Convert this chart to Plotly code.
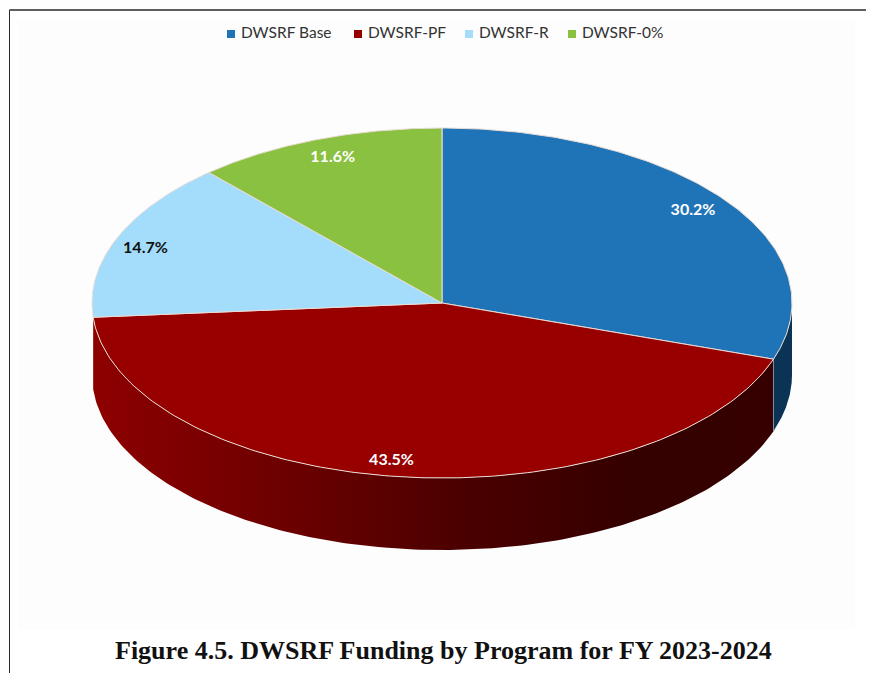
import numpy as np
import plotly.graph_objects as go

programs = ["DWSRF Base", "DWSRF-PF", "DWSRF-R", "DWSRF-0%"]
shares = [30.2, 43.5, 14.7, 11.6]
top_colors = ["#1F74B8", "#980000", "#A3DDFB", "#8BC140"]
label_colors = ["#FFFFFF", "#FFFFFF", "#111111", "#FFFFFF"]
title_text = "Figure 4.5. DWSRF Funding by Program for FY 2023-2024"

# The page body adds an 8 px margin, so the figure is 8 px smaller on each axis
# and page coordinates are converted by subtracting 8.
PAGE = 8
W, H = 874 - PAGE, 673 - PAGE
CX, CY, RX, RY, DEPTH = 442 - PAGE, 303 - PAGE, 350, 175, 72
xr = [-CX / RX, (W - CX) / RX]
yr = [-(H - CY) / RY, CY / RY]
d = DEPTH / RY


def px(x, y):
    return (x - PAGE - CX) / RX, (CY - (y - PAGE)) / RY


def arc(a0, a1, n=160):
    t = np.radians(np.linspace(a0, a1, n))
    return np.sin(t), np.cos(t)


edges = np.concatenate([[0], np.cumsum(shares)]) / sum(shares) * 360
fig = go.Figure()

# side walls (only the front half, 90..270 degrees, is visible)
wall_fills = {
    0: dict(fillcolor="#0B3355"),
    1: dict(fillgradient=dict(type="horizontal", colorscale=[
        [0, "#8E0000"], [0.3, "#6A0000"], [0.55, "#4A0000"], [0.8, "#340000"], [1, "#360000"]])),
}
for i, style in wall_fills.items():
    a0, a1 = max(edges[i], 90), min(edges[i + 1], 270)
    x, y = arc(a0, a1)
    fig.add_trace(go.Scatter(
        x=np.concatenate([x, x[::-1]]), y=np.concatenate([y, y[::-1] - d]),
        mode="lines", line=dict(width=0), fill="toself", showlegend=False, hoverinfo="skip", **style))
    for ex in [a0, a1]:
        if 90 < ex < 265:
            ax, ay = arc(ex, ex, 1)
            fig.add_trace(go.Scatter(x=[ax[0], ax[0]], y=[ay[0], ay[0] - d], mode="lines",
                                     line=dict(color="#7F8FA0", width=1), showlegend=False, hoverinfo="skip"))

# top faces
for i, name in enumerate(programs):
    x, y = arc(edges[i], edges[i + 1])
    fig.add_trace(go.Scatter(
        x=np.concatenate([[0], x, [0]]), y=np.concatenate([[0], y, [0]]),
        mode="lines", line=dict(color="#E9DCD6", width=1), fill="toself",
        fillcolor=top_colors[i], showlegend=False, name=name, hoverinfo="name"))

# percentage labels, placed along each slice's mid angle with small pixel nudges
nudges = [(-5, 0), (-12, 2), (-4, 4), (3, 2)]
mid = np.radians((edges[:-1] + edges[1:]) / 2)
fig.add_trace(go.Scatter(
    x=[0.9 * np.sin(m) + n[0] / RX for m, n in zip(mid, nudges)],
    y=[0.9 * np.cos(m) - n[1] / RY for m, n in zip(mid, nudges)],
    mode="text",
    text=[f"{v:.1f}%" for v in shares],
    textfont=dict(family="Lato", size=16, color=label_colors, weight="bold"),
    showlegend=False, hoverinfo="skip"))

# legend row: a square key and a name for each program
key_x = [231, 358, 469, 572]
key_y = 34
for name, c, kx in zip(programs, top_colors, key_x):
    lx, ly = px(kx, key_y)
    fig.add_trace(go.Scatter(
        x=[lx], y=[ly], mode="markers+text", text=[" " + name], textposition="middle right",
        textfont=dict(family="Lato", size=15.5, color="#333333"),
        marker=dict(symbol="square", size=8, color=c), showlegend=False, name=name, hoverinfo="name"))

x0, y0 = px(9.5, 10)
bx0, by0 = px(18, 20)
bx1, by1 = px(855, 630)
fig.add_shape(type="rect", x0=bx0, y0=by0, x1=bx1, y1=by1, fillcolor="#FDFDFD",
              line=dict(width=0), layer="below")
fig.add_shape(type="line", x0=x0, y0=y0, x1=xr[1], y1=y0, line=dict(color="#2A2A2A", width=1.5))
fig.add_shape(type="line", x0=x0, y0=y0, x1=x0, y1=yr[0], line=dict(color="#2A2A2A", width=1))

tx, ty = px(443, 650)
fig.add_annotation(x=tx, y=ty, text=f"<b>{title_text}</b>", showarrow=False,
                   font=dict(family="Liberation Serif", size=26, color="#111111"))

fig.update_layout(
    width=W, height=H, margin=dict(l=0, r=0, t=0, b=0),
    paper_bgcolor="white", plot_bgcolor="white", showlegend=False,
    xaxis=dict(range=xr, visible=False, fixedrange=True),
    yaxis=dict(range=yr, visible=False, fixedrange=True),
)
fig.write_html("out.html")
